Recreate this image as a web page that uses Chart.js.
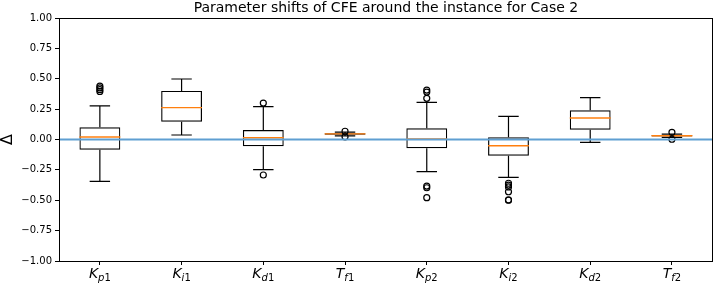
<!DOCTYPE html>
<html>
<head>
<meta charset="utf-8">
<script src="https://cdn.jsdelivr.net/npm/chart.js@4"></script>
<style>body{margin:0;background:#fff}</style>
</head>
<body>
<canvas id="myChart" width="718" height="286"></canvas>
<script>
// box plot numbers
const categories = ['K_p1', 'K_i1', 'K_d1', 'T_f1', 'K_p2', 'K_i2', 'K_d2', 'T_f2'];
const q1 =          [-0.084, 0.147, -0.056, 0.040, -0.072, -0.133, 0.081, 0.025];
const q3 =          [ 0.100, 0.400,  0.078, 0.052,  0.092,  0.018, 0.240, 0.037];
const medians =     [ 0.020, 0.262,  0.015, 0.046,  0.004, -0.051, 0.177, 0.031];
const whiskerLow =  [-0.344, 0.037, -0.248, 0.030, -0.265, -0.311, -0.023, 0.018];
const whiskerHigh = [ 0.276, 0.498,  0.270, 0.060,  0.306,  0.190, 0.344, 0.045];
const outliers = [
    [0.44, 0.425, 0.41, 0.395],
    [],
    [0.30, -0.292],
    [0.068, 0.022],
    [0.407, 0.39, 0.339, -0.383, -0.397, -0.479],
    [-0.36, -0.375, -0.39, -0.43, -0.497, -0.50],
    [],
    [0.059, 0.002]
];
const title = 'Parameter shifts of CFE around the instance for Case 2';
const yLabel = 'Δ';

Chart.defaults.font.family = '"DejaVu Sans"';

const outlierPoints = [];
outliers.forEach((vals, i) => {
    vals.forEach(v => outlierPoints.push({x: categories[i], y: v}));
});

const boxParts = {
    id: 'boxParts',
    afterDatasetDraw(chart, args) {
        if (args.index !== 0) return;
        const ctx = chart.ctx;
        const xs = chart.scales.x, ys = chart.scales.y;
        ctx.save();
        categories.forEach((c, i) => {
            const bar = args.meta.data[i];
            const cx = xs.getPixelForValue(i);
            const cap = bar.width / 4;
            ctx.lineWidth = 1.2;
            ctx.strokeStyle = '#000';
            ctx.beginPath();
            // whiskers
            ctx.moveTo(cx, ys.getPixelForValue(q3[i]));
            ctx.lineTo(cx, ys.getPixelForValue(whiskerHigh[i]));
            ctx.moveTo(cx, ys.getPixelForValue(q1[i]));
            ctx.lineTo(cx, ys.getPixelForValue(whiskerLow[i]));
            // caps
            ctx.moveTo(cx - cap, ys.getPixelForValue(whiskerHigh[i]));
            ctx.lineTo(cx + cap, ys.getPixelForValue(whiskerHigh[i]));
            ctx.moveTo(cx - cap, ys.getPixelForValue(whiskerLow[i]));
            ctx.lineTo(cx + cap, ys.getPixelForValue(whiskerLow[i]));
            ctx.stroke();
            // median
            ctx.strokeStyle = '#ff7f0e';
            ctx.lineWidth = 1.4;
            ctx.beginPath();
            ctx.moveTo(cx - bar.width / 2, ys.getPixelForValue(medians[i]));
            ctx.lineTo(cx + bar.width / 2, ys.getPixelForValue(medians[i]));
            ctx.stroke();
        });
        ctx.restore();
    },
    afterDatasetsDraw(chart) {
        const ctx = chart.ctx, a = chart.chartArea;
        const y0 = chart.scales.y.getPixelForValue(0);
        ctx.save();
        ctx.strokeStyle = '#5f9fd2';
        ctx.lineWidth = 1.8;
        ctx.beginPath();
        ctx.moveTo(a.left, y0);
        ctx.lineTo(a.right, y0);
        ctx.stroke();
        ctx.restore();
    },
    afterDraw(chart) {
        const ctx = chart.ctx, a = chart.chartArea;
        const xs = chart.scales.x;
        ctx.save();
        // frame
        ctx.strokeStyle = '#000';
        ctx.lineWidth = 1;
        ctx.strokeRect(Math.round(a.left) + 0.5, Math.round(a.top) + 0.5,
            Math.round(a.right - a.left) - 1, Math.round(a.bottom - a.top));
        ctx.fillStyle = '#000';
        // title
        ctx.font = '14px "DejaVu Sans"';
        ctx.textAlign = 'center';
        ctx.textBaseline = 'alphabetic';
        ctx.fillText(title, (a.left + a.right) / 2, 12);
        // y label
        ctx.save();
        ctx.translate(12, (a.top + a.bottom) / 2);
        ctx.rotate(-Math.PI / 2);
        ctx.font = '16px "DejaVu Sans"';
        ctx.fillText(yLabel, 0, 0);
        ctx.restore();
        // x tick labels as K_{p1} style
        ctx.textAlign = 'left';
        categories.forEach((c, i) => {
            const [main, sub] = c.split('_');
            const subLetter = sub.slice(0, -1), subDigit = sub.slice(-1);
            ctx.font = 'italic 14px "DejaVu Sans"';
            const w1 = ctx.measureText(main).width;
            ctx.font = 'italic 10px "DejaVu Sans"';
            const w2 = ctx.measureText(subLetter).width;
            ctx.font = '10px "DejaVu Sans"';
            const w3 = ctx.measureText(subDigit).width;
            let x = xs.getPixelForValue(i) - (w1 + w2 + w3) / 2;
            ctx.font = 'italic 14px "DejaVu Sans"';
            ctx.fillText(main, x, 278);
            x += w1;
            ctx.font = 'italic 10px "DejaVu Sans"';
            ctx.fillText(subLetter, x, 281);
            x += w2;
            ctx.font = '10px "DejaVu Sans"';
            ctx.fillText(subDigit, x, 281);
        });
        ctx.restore();
    }
};

const myChart = new Chart(document.getElementById('myChart'), {
    type: 'bar',
    data: {
        labels: categories,
        datasets: [{
            type: 'bar',
            data: q1.map((v, i) => [v, q3[i]]),
            backgroundColor: 'rgba(255,255,255,0)',
            borderColor: '#000',
            borderWidth: 1.2,
            borderSkipped: false,
            barPercentage: 0.5,
            categoryPercentage: 1,
            order: 1
        }, {
            type: 'line',
            data: outlierPoints,
            showLine: false,
            pointStyle: 'circle',
            pointRadius: 3,
            pointBorderWidth: 1.2,
            pointBorderColor: '#000',
            pointBackgroundColor: 'rgba(0,0,0,0)',
            order: 0
        }]
    },
    options: {
        responsive: false,
        animation: false,
        layout: {padding: {top: 18, right: 1, left: 0, bottom: 0}},
        plugins: {
            legend: {display: false},
            tooltip: {enabled: false},
        },
        scales: {
            x: {
                offset: true,
                grid: {display: true, offset: false, drawOnChartArea: false, drawTicks: true, tickLength: 4, color: '#000'},
                border: {display: false},
                ticks: {color: 'rgba(0,0,0,0)', autoSkip: false, maxRotation: 0, font: {size: 10}},
                afterFit(s) { s.height = 25; }
            },
            y: {
                min: -1,
                max: 1,
                grid: {display: true, drawOnChartArea: false, drawTicks: true, tickLength: 4, color: '#000'},
                border: {display: false},
                ticks: {
                    stepSize: 0.25,
                    color: '#000',
                    padding: 3,
                    font: {size: 10},
                    callback: v => v.toFixed(2).replace('-', '\u2212')
                },
                afterFit(s) { s.width = 59; }
            }
        }
    },
    plugins: [boxParts]
});
</script>
</body>
</html>
